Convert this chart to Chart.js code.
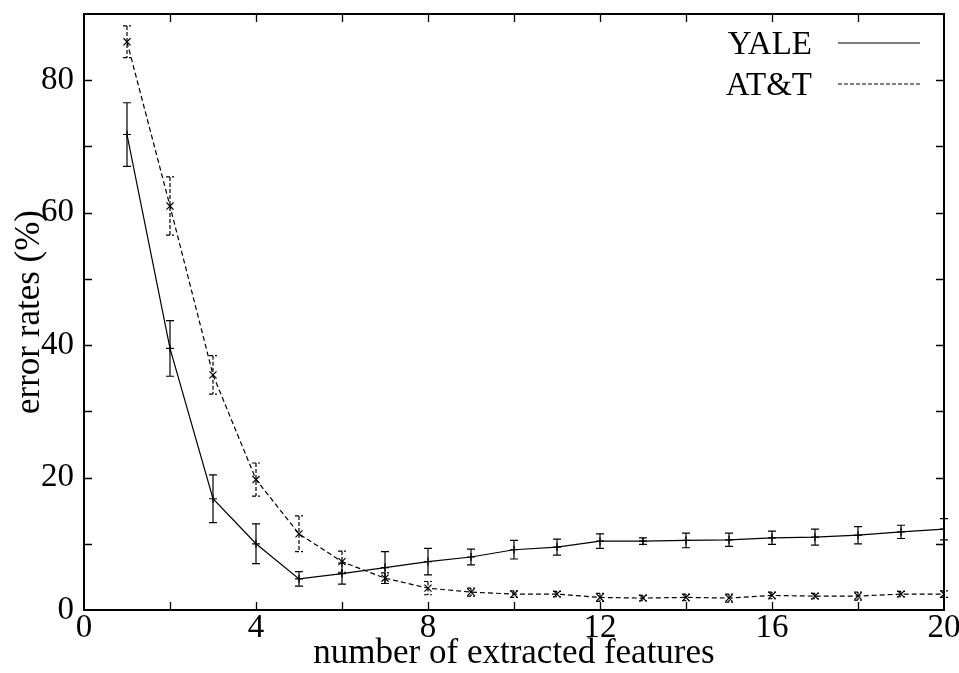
<!DOCTYPE html>
<html>
<head>
<meta charset="utf-8">
<script src="https://cdn.jsdelivr.net/npm/chart.js@4/dist/chart.umd.min.js"></script>
<style>
html,body{margin:0;padding:0;background:#fff;}
#wrap{width:959px;height:673px;}
</style>
</head>
<body>
<div id="wrap"><canvas id="c" width="959" height="673"></canvas></div>
<script>
const features = [1,2,3,4,5,6,7,8,9,10,11,12,13,14,15,16,17,18,19,20];
const yale    = [71.8,39.5,16.8,10.0,4.7,5.5,6.4,7.3,8.0,9.1,9.5,10.4,10.4,10.5,10.6,10.9,11.0,11.3,11.8,12.2];
const yaleErr = [4.8,4.2,3.6,3.0,1.1,1.6,2.4,2.0,1.2,1.4,1.2,1.1,0.5,1.1,1.0,1.0,1.2,1.3,1.0,1.6];
const att     = [85.8,61.0,35.5,19.7,11.5,7.3,4.8,3.3,2.7,2.4,2.4,1.9,1.8,1.9,1.8,2.2,2.1,2.1,2.4,2.4];
const attErr  = [2.4,4.4,2.9,2.5,2.7,1.6,0.8,1.0,0.6,0.5,0.4,0.6,0.4,0.5,0.6,0.5,0.4,0.6,0.4,0.5];
const seriesNames = ['YALE','AT&T'];
const xTickStep = 4, xMinorStep = 2, yTickStep = 20, yMinorStep = 10;
const xMin = 0, xMax = 20, yMin = 0, yMax = 90;

const FONT = "'Liberation Serif', 'DejaVu Serif', serif";
const DASH = [5,3];

function pts(xs, ys){ return xs.map((x,i)=>({x:x, y:ys[i]})); }

const errorBars = {
  id: 'errorBars',
  afterDatasetsDraw(chart){
    const ctx = chart.ctx, xs = chart.scales.x, ys = chart.scales.y;
    const errs = [yaleErr, attErr];
    chart.data.datasets.forEach((ds, di) => {
      ctx.save();
      ctx.strokeStyle = '#000';
      ctx.lineWidth = 1.2;
      ctx.setLineDash(di === 1 ? [4,2] : []);
      ds.data.forEach((p, i) => {
        const e = errs[di][i];
        const px = xs.getPixelForValue(p.x);
        const top = ys.getPixelForValue(p.y + e);
        const bot = ys.getPixelForValue(p.y - e);
        ctx.beginPath();
        ctx.moveTo(px, top); ctx.lineTo(px, bot);
        ctx.moveTo(px-4, top); ctx.lineTo(px+4, top);
        ctx.moveTo(px-4, bot); ctx.lineTo(px+4, bot);
        ctx.stroke();
      });
      ctx.restore();
    });
  }
};

const frame = {
  id: 'frame',
  afterDraw(chart){
    const ctx = chart.ctx, a = chart.chartArea, xs = chart.scales.x, ys = chart.scales.y;
    ctx.save();
    ctx.strokeStyle = '#000';
    ctx.lineWidth = 1.3;
    const L = 8;
    ctx.beginPath();
    for (let v = xMin + xMinorStep; v < xMax; v += xMinorStep){
      const px = Math.round(xs.getPixelForValue(v)) + 0.5;
      ctx.moveTo(px, a.bottom); ctx.lineTo(px, a.bottom - L);
      ctx.moveTo(px, a.top); ctx.lineTo(px, a.top + L);
    }
    for (let v = yMin + yMinorStep; v < yMax; v += yMinorStep){
      const py = Math.round(ys.getPixelForValue(v)) + 0.5;
      ctx.moveTo(a.left, py); ctx.lineTo(a.left + L, py);
      ctx.moveTo(a.right, py); ctx.lineTo(a.right - L, py);
    }
    ctx.stroke();
    ctx.lineWidth = 2;
    ctx.strokeRect(a.left, a.top, a.right - a.left, a.bottom - a.top);
    // legend
    ctx.font = "33px " + FONT;
    ctx.fillStyle = '#000';
    ctx.textAlign = 'right';
    ctx.textBaseline = 'middle';
    const ly = [45, 86];
    chart.data.datasets.forEach((ds, i) => {
      ctx.fillText(seriesNames[i], 812, ly[i]);
      ctx.lineWidth = 1.2;
      ctx.setLineDash(ds.borderDash ? [4,2] : []);
      ctx.beginPath();
      ctx.moveTo(838, ly[i]-2); ctx.lineTo(920, ly[i]-2);
      ctx.stroke();
    });
    ctx.restore();
  }
};

new Chart(document.getElementById('c'), {
  type: 'line',
  data: {
    datasets: [
      { label: seriesNames[0], data: pts(features, yale), borderColor:'#000', backgroundColor:'#000',
        borderWidth: 1.2, pointStyle:'cross', pointRadius: 4, pointBorderWidth: 1.2, tension: 0 },
      { label: seriesNames[1], data: pts(features, att), borderColor:'#000', backgroundColor:'#000',
        borderWidth: 1.2, borderDash: DASH, pointStyle:'crossRot', pointRadius: 5, pointBorderWidth: 1.2, tension: 0 }
    ]
  },
  options: {
    responsive: false,
    animation: false,
    devicePixelRatio: 1,
    layout: { padding: { left: 0, right: 15, top: 14, bottom: 0 } },
    plugins: { legend: { display: false }, tooltip: { enabled: false } },
    scales: {
      x: {
        type: 'linear', min: xMin, max: xMax,
        grid: { display: false, drawTicks: false }, border: { display: false },
        ticks: { stepSize: xTickStep, color:'#000', padding: 2, font: { family: FONT, size: 33, lineHeight: 1 } },
        title: { display: true, text: 'number of extracted features', color:'#000', padding: 0,
                 font: { family: FONT, size: 35, lineHeight: 1.1 } },
        afterFit(s){ s.height = 63; s.paddingLeft = 0; s.paddingRight = 0; }
      },
      y: {
        type: 'linear', min: yMin, max: yMax,
        grid: { display: false, drawTicks: false }, border: { display: false },
        ticks: { stepSize: yTickStep, color:'#000', padding: 10, font: { family: FONT, size: 33 },
                 callback: (v) => (v % yTickStep === 0 && v < yMax) ? v : '' },
        title: { display: true, text: 'error rates (%)', color:'#000', padding: { top: 11, bottom: 0 },
                 font: { family: FONT, size: 35, lineHeight: 1.1 } },
        afterFit(s){ s.width = 84; s.paddingTop = 0; s.paddingBottom = 0; }
      }
    }
  },
  plugins: [errorBars, frame]
});
</script>
</body>
</html>
